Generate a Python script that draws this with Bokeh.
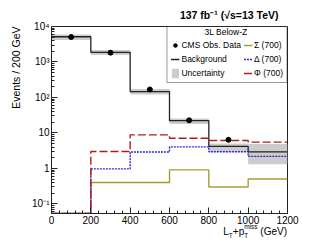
import math
import numpy as np
from bokeh.plotting import figure
from bokeh.layouts import column
from bokeh.models import Range1d, FixedTicker, Legend, LegendItem, Title, Div
from bokeh.core.properties import value
from bokeh.embed import file_html
from bokeh.resources import INLINE

# ---------------- data ----------------
bin_edges = [0, 200, 400, 600, 800, 1000, 1200]
obs = [5050, 1830, 168, 22.7, 6.4, 0]
bkg = [5140, 1866, 146, 22.2, 4.15, 2.93]
bkg_up = [5970, 2180, 173, 25.3, 5.0, 4.9]
bkg_dn = [4160, 1580, 122, 17.9, 2.93, 1.30]
sig_sigma = [0, 0.40, 0.40, 0.91, 0.30, 0.50]
sig_delta = [0, 0.97, 2.91, 4.05, 2.93, 2.18]
sig_phi = [0, 3.0, 8.8, 7.1, 6.1, 5.5]
x_ticks = [0, 200, 400, 600, 800, 1000, 1200]
y_ticks = [0.1, 1, 10, 100, 1000, 10000]
y_tick_labels = ["10\u207b\u00b9", "1", "10", "10\u00b2", "10\u00b3", "10\u2074"]

# ---------------- geometry (canvas pixels) ----------------
FL, FR, FT, FB = 49, 287, 25, 213
W, H_FIG, H_DIV = 311, 228, 20
Y1 = 1e4
PX_PER_DEC = 35.66
Y0 = 10 ** (math.log10(Y1) - (FB - FT) / PX_PER_DEC)
X0, X1 = 0, 1200

def xd(px):
    return X0 + (px - FL) * (X1 - X0) / (FR - FL)

def yd(py):
    return 10 ** (math.log10(Y1) - (py - FT) / PX_PER_DEC)

FONT = "Liberation Sans"

p = figure(width=W, height=H_FIG, x_range=Range1d(X0, X1), y_range=Range1d(Y0, Y1),
           y_axis_type="log", output_backend="svg", toolbar_location=None,
           min_border_left=FL, min_border_right=W - FR,
           min_border_top=FT, min_border_bottom=H_FIG - FB)
p.grid.visible = False
p.outline_line_color = "#222222"
p.outline_line_width = 1
p.background_fill_color = "white"
p.border_fill_color = "white"

edges = np.array(bin_edges, dtype=float)
centers = 0.5 * (edges[:-1] + edges[1:])

def stairs_y(vals):
    v = np.maximum(np.array(vals, dtype=float), Y0)
    return np.append(v, v[-1])

# uncertainty band
r_band = p.quad(left=edges[:-1], right=edges[1:], bottom=bkg_dn, top=bkg_up,
                fill_color="#cccccc", line_color=None)
# background
r_bkg = p.step(x=edges, y=stairs_y(bkg), mode="after", line_color="#222222", line_width=1.3)
# signals
r_sigma = p.step(x=edges, y=stairs_y(sig_sigma), mode="after", line_color="#a59f30", line_width=1.4)
r_delta = p.step(x=edges, y=stairs_y(sig_delta), mode="after", line_color="#2b2bd6",
                 line_width=1.4, line_dash="2 1")
r_phi = p.step(x=edges, y=stairs_y(sig_phi), mode="after", line_color="#b01c1c",
               line_width=1.4, line_dash="8 3")
# observed
obs_arr = np.array(obs, dtype=float)
mask = obs_arr > 0
r_data = p.scatter(x=centers[mask], y=obs_arr[mask], size=5, color="black")
r_dataline = p.line(x=[], y=[], line_color="black", line_width=1)

# axes
p.xaxis.ticker = FixedTicker(ticks=x_ticks, minor_ticks=list(range(0, 1201, 40)))
minor_y = [m * 10.0 ** e for e in range(-2, 4) for m in range(2, 10)]
p.yaxis.ticker = FixedTicker(ticks=y_ticks, minor_ticks=minor_y)
p.yaxis.major_label_overrides = {t: l for t, l in zip(y_ticks, y_tick_labels)}
for ax in (p.xaxis[0], p.yaxis[0]):
    ax.major_tick_in = 6
    ax.major_tick_out = 0
    ax.minor_tick_in = 3
    ax.minor_tick_out = 0
    ax.major_label_text_font = FONT
    ax.major_label_text_font_size = "10px"
    ax.major_label_text_color = "black"
    ax.axis_line_color = "#222222"
    ax.major_tick_line_color = "#222222"
    ax.minor_tick_line_color = "#222222"
    ax.major_label_standoff = 2

# legend header (drawn under a transparent legend box)
p.text(x=[xd(225)], y=[yd(31)], text=["3L Below-Z"], text_align="center",
       text_baseline="middle", text_font=value(FONT), text_font_size="8.5px",
       text_color="black")

# legend
legend = Legend(items=[
    LegendItem(label="CMS Obs. Data", renderers=[r_dataline, r_data]),
    LegendItem(label="Background", renderers=[r_bkg]),
    LegendItem(label="Uncertainty", renderers=[r_band]),
    LegendItem(label="\u03a3 (700)", renderers=[r_sigma]),
    LegendItem(label="\u0394 (700)", renderers=[r_delta]),
    LegendItem(label="\u03a6 (700)", renderers=[r_phi]),
], ncols=2, location="top_right", title="\u00a0",
    title_text_font_size="7px", title_standoff=2,
    label_text_font=FONT, label_text_font_size="8.5px", label_text_color="black",
    glyph_width=9, glyph_height=12, label_height=12, label_standoff=2,
    spacing=2, padding=3, margin=0,
    border_line_color="#333333", border_line_width=1.5, background_fill_alpha=0)
p.add_layout(legend)

# titles outside the frame
p.add_layout(Title(text="137 fb\u207b\u00b9 (\u221as=13 TeV)", align="right", offset=9,
                   standoff=12, vertical_align="bottom", text_font=FONT,
                   text_font_size="10.5px", text_font_style="bold", text_color="black"), "above")
p.add_layout(Title(text="Events / 200 GeV", align="right", offset=0, standoff=15,
                   text_font=FONT, text_font_size="10.5px", text_font_style="normal",
                   text_color="black"), "left")

# x axis title with sub/superscripts
small = "font-size:6.5px;position:relative;"
xlabel_html = (
    f'<div style="display:block;position:relative;top:-5px;width:{W}px;box-sizing:border-box;'
    f'height:12px;line-height:12px;text-align:right;'
    f'padding-right:{W - FR}px;font-family:\'{FONT}\';font-size:10px;color:black;white-space:nowrap;">'
    f'L<span style="{small}top:3px;">T</span>+p<span style="{small}top:3px;">T</span>'
    f'<span style="{small}top:-6px;margin-left:-4px;">miss</span> (GeV)</div>'
)
xlabel = Div(text=xlabel_html, width=W, height=H_DIV, margin=0,
             styles={"width": f"{W}px", "text-align": "right"})

page = column(p, xlabel, spacing=0)
open("out.html", "w").write(file_html(page, INLINE))
